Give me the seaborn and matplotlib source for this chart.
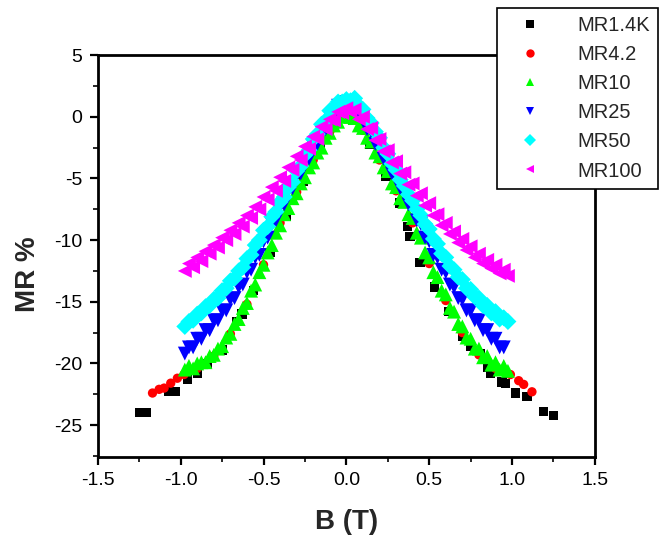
import matplotlib
matplotlib.use("Agg")
import matplotlib.pyplot as plt
import numpy as np
import pandas as pd
import seaborn as sns
from matplotlib.lines import Line2D
from matplotlib.ticker import MultipleLocator, FormatStrFormatter

# field sweep shared by the dense curves (T)
b_sweep = [-0.975, -0.95, -0.925, -0.9, -0.875, -0.85, -0.825, -0.8, -0.775, -0.75,
           -0.725, -0.7, -0.675, -0.65, -0.625, -0.6, -0.575, -0.55, -0.525, -0.5,
           -0.475, -0.45, -0.425, -0.4, -0.375, -0.35, -0.325, -0.3, -0.275, -0.25,
           -0.225, -0.2, -0.175, -0.15, -0.125, -0.1, -0.075, -0.05, -0.025, 0.0,
           0.025, 0.05, 0.075, 0.1, 0.125, 0.15, 0.175, 0.2, 0.225, 0.25,
           0.275, 0.3, 0.325, 0.35, 0.375, 0.4, 0.425, 0.45, 0.475, 0.5,
           0.525, 0.55, 0.575, 0.6, 0.625, 0.65, 0.675, 0.7, 0.725, 0.75,
           0.775, 0.8, 0.825, 0.85, 0.875, 0.9, 0.925, 0.95, 0.975]

mr_10 = [-20.5, -20.2, -20.4, -20.0, -19.9, -19.9, -19.4, -19.3, -18.8, -18.6,
         -17.9, -17.6, -16.8, -16.4, -15.5, -15.1, -14.1, -13.6, -12.6, -12.0,
         -11.0, -10.4, -9.4, -8.8, -7.9, -7.4, -6.6, -6.2, -5.4, -4.9,
         -4.1, -3.7, -2.9, -2.5, -1.7, -1.3, -0.7, -0.4, 0.0, 0.2,
         0.0, -0.1, -0.7, -0.9, -1.7, -2.0, -2.9, -3.2, -4.1, -4.4,
         -5.4, -5.7, -6.6, -6.9, -7.9, -8.2, -9.4, -9.8, -11.0, -11.4,
         -12.6, -13.0, -14.1, -14.4, -15.5, -15.8, -16.8, -17.0, -17.9, -18.0,
         -18.8, -18.8, -19.5, -19.4, -20.1, -19.9, -20.5, -20.2, -20.6]

mr_25 = [-19.2, -18.7, -18.7, -18.0, -18.0, -17.3, -17.3, -16.5, -16.5, -15.7,
         -15.7, -14.8, -14.7, -13.8, -13.6, -12.6, -12.4, -11.4, -11.2, -10.1,
         -9.8, -8.7, -8.4, -7.3, -7.1, -6.0, -5.8, -4.8, -4.6, -3.6,
         -3.4, -2.4, -2.2, -1.2, -1.0, 0.0, 0.1, 0.9, 0.8, 1.2,
         1.0, 1.0, 0.2, 0.0, -1.0, -1.2, -2.2, -2.4, -3.4, -3.6,
         -4.6, -4.8, -5.8, -6.0, -7.1, -7.3, -8.4, -8.7, -9.8, -10.1,
         -11.2, -11.4, -12.4, -12.6, -13.6, -13.8, -14.7, -14.8, -15.7, -15.7,
         -16.5, -16.5, -17.3, -17.3, -18.0, -18.0, -18.7, -18.7, np.nan]

mr_50 = [-17.0, -16.6, -16.5, -16.0, -15.9, -15.4, -15.3, -14.8, -14.7, -14.1,
         -13.9, -13.3, -13.1, -12.5, -12.2, -11.5, -11.2, -10.4, -10.0, -9.2,
         -8.9, -8.1, -7.7, -6.9, -6.5, -5.7, -5.3, -4.4, -4.0, -3.1,
         -2.7, -1.8, -1.4, -0.6, -0.3, 0.5, 0.7, 1.2, 1.2, 1.4,
         1.3, 1.5, 0.9, 0.6, -0.1, -0.5, -1.2, -1.7, -2.5, -3.0,
         -3.8, -4.3, -5.1, -5.6, -6.3, -6.8, -7.5, -8.0, -8.7, -9.1,
         -9.9, -10.3, -11.1, -11.4, -12.1, -12.4, -13.0, -13.2, -13.9, -14.0,
         -14.6, -14.7, -15.3, -15.3, -15.9, -15.8, -16.4, -16.3, -16.6]

mr_100 = [-12.5, -11.9, -12.2, -11.4, -11.7, -10.9, -11.1, -10.4, -10.6, -9.8,
          -10.0, -9.2, -9.5, -8.6, -8.9, -8.0, -8.2, -7.3, -7.5, -6.5,
          -6.7, -5.7, -6.0, -4.9, -5.2, -4.1, -4.3, -3.2, -3.5, -2.4,
          -2.6, -1.6, -1.8, -0.8, -1.0, -0.2, -0.3, 0.4, 0.3, 0.7,
          0.4, 0.6, -0.2, 0.0, -1.0, -0.9, -1.9, -1.8, -2.8, -2.7,
          -3.7, -3.6, -4.6, -4.5, -5.5, -5.4, -6.4, -6.2, -7.2, -7.0,
          -8.0, -7.9, -8.8, -8.6, -9.5, -9.3, -10.2, -9.9, -10.8, -10.5,
          -11.4, -11.1, -11.9, -11.6, -12.3, -12.0, -12.7, -12.4, -12.9]

b_42 = [-1.17, -1.13, -1.10, -1.06, -1.02, -0.98, -0.9, -0.8, -0.7, -0.6,
        -0.5, -0.4, -0.3, -0.2, -0.1, 0.0, 0.1, 0.2, 0.3, 0.4,
        0.5, 0.6, 0.7, 0.8, 0.9, 0.96, 0.99, 1.04, 1.07, 1.12]
mr_42 = [-22.4, -22.1, -22.0, -21.6, -21.2, -20.9, -20.4, -19.4, -17.6, -15.2,
         -12.0, -8.6, -6.1, -3.5, -1.2, 0.0, -1.1, -3.5, -6.0, -8.6,
         -11.9, -14.9, -17.5, -19.3, -20.4, -20.7, -20.9, -21.4, -21.7, -22.3]

b_14k = [-1.25, -1.21, -1.07, -1.03, -0.96, -0.9, -0.84, -0.75, -0.66, -0.63,
         -0.56, -0.46, -0.36, -0.26, -0.16, -0.06, 0.04, 0.14, 0.24, 0.32,
         0.37, 0.385, 0.445, 0.53, 0.62, 0.70, 0.75, 0.81, 0.85, 0.87,
         0.94, 0.96, 1.02, 1.09, 1.19, 1.25]
mr_14k = [-24.0, -24.0, -22.3, -22.3, -21.3, -20.8, -20.0, -18.9, -16.6, -16.0,
          -14.1, -11.0, -8.1, -5.2, -2.6, -0.4, -0.3, -2.2, -4.8, -7.0,
          -8.9, -9.7, -11.8, -13.8, -15.8, -17.8, -18.6, -19.2, -20.3, -20.8,
          -21.5, -21.6, -22.4, -22.7, -23.9, -24.2]

labels = ["MR1.4K", "MR4.2", "MR10", "MR25", "MR50", "MR100"]
colors = ["#000000", "#ff0000", "#00ff00", "#0000ff", "#00ffff", "#ff00ff"]
markers = ["s", "o", "^", "v", "D", "<"]
marker_sizes = [45, 45, 100, 100, 75, 100]


def build_frame():
    parts = [
        ("MR1.4K", b_14k, mr_14k),
        ("MR4.2", b_42, mr_42),
        ("MR10", b_sweep, mr_10),
        ("MR25", b_sweep, mr_25),
        ("MR50", b_sweep, mr_50),
        ("MR100", b_sweep, mr_100),
    ]
    rows = []
    for name, b, mr in parts:
        rows.append(pd.DataFrame({"B": b, "MR": mr, "series": name}))
    # later series are drawn on top, as in the original
    return pd.concat(rows, ignore_index=True).dropna(subset=["MR"])


def main():
    df = build_frame()
    palette = dict(zip(labels, colors))
    marker_map = dict(zip(labels, markers))
    size_map = dict(zip(labels, marker_sizes))

    sns.set_theme(style="ticks")
    plt.rcParams["font.family"] = ["Liberation Sans", "DejaVu Sans"]
    plt.rcParams["axes.unicode_minus"] = False

    fig = plt.figure(figsize=(6.61, 5.41), dpi=100)
    ax = fig.add_axes([0.148, 0.155, 0.752, 0.743])

    sns.scatterplot(
        data=df,
        x="B",
        y="MR",
        hue="series",
        style="series",
        size="series",
        hue_order=labels,
        style_order=labels,
        size_order=labels,
        palette=palette,
        markers=marker_map,
        sizes=size_map,
        linewidth=0,
        legend=False,
        ax=ax,
    )

    ax.set_xlim(-1.5, 1.5)
    ax.set_ylim(-27.6, 5)
    ax.xaxis.set_major_locator(MultipleLocator(0.5))
    ax.xaxis.set_minor_locator(MultipleLocator(0.25))
    ax.xaxis.set_major_formatter(FormatStrFormatter("%.1f"))
    ax.yaxis.set_major_locator(MultipleLocator(5))
    ax.yaxis.set_minor_locator(MultipleLocator(2.5))

    for side in ["left", "right", "top", "bottom"]:
        ax.spines[side].set_visible(True)
        ax.spines[side].set_linewidth(2.0)
        ax.spines[side].set_color("black")

    ax.tick_params(which="major", direction="out", length=6, width=1.6,
                   labelsize=14, colors="black", pad=5)
    ax.tick_params(which="minor", direction="out", length=3.5, width=1.4)
    ax.tick_params(top=False, right=False, which="both")

    ax.set_xlabel("B (T)", fontsize=20, fontweight="bold")
    ax.set_ylabel("MR %", fontsize=20, fontweight="bold")
    ax.xaxis.set_label_coords(0.5, -0.13)
    ax.yaxis.set_label_coords(-0.115, 0.455)
    ax.xaxis.label.set_va("top")
    ax.grid(False)

    handles = [
        Line2D([], [], linestyle="none", marker=m, color=c, markersize=6,
               markeredgewidth=0)
        for m, c in zip(markers, colors)
    ]
    leg = fig.legend(
        handles,
        labels,
        loc="upper right",
        bbox_to_anchor=(0.9955, 0.985),
        borderaxespad=0,
        fontsize=14.5,
        frameon=True,
        fancybox=False,
        framealpha=1,
        edgecolor="black",
        borderpad=0.4,
        handlelength=2.5,
        handletextpad=1.1,
        labelspacing=0.5,
    )
    leg.get_frame().set_linewidth(1.2)

    fig.savefig("out.png", dpi=100)


if __name__ == "__main__":
    main()
